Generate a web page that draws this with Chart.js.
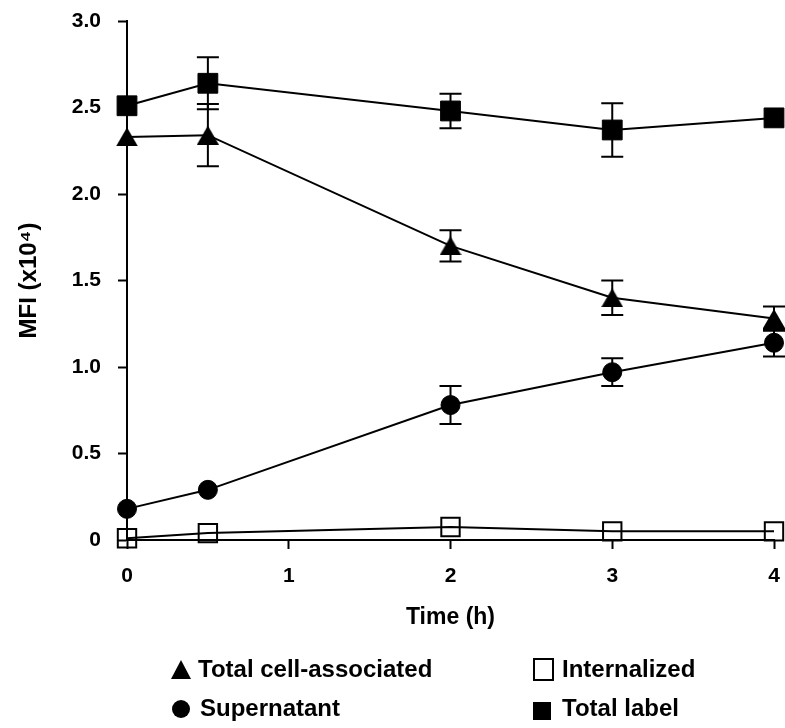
<!DOCTYPE html>
<html>
<head>
<meta charset="utf-8">
<script src="https://cdn.jsdelivr.net/npm/chart.js@4/dist/chart.umd.min.js"></script>
<style>
    html, body { margin: 0; padding: 0; background: #fff; }
    #wrap { position: relative; width: 785px; height: 728px; }
    #chart { position: absolute; left: 0; top: 0; }
    .leg {
        position: absolute;
        font: bold 24px "Liberation Sans", Arial, sans-serif;
        color: #000;
        line-height: 28px;
        white-space: nowrap;
    }
    .mk { position: absolute; }
    .tri { width: 0; height: 0; border-left: 10.5px solid transparent; border-right: 10.5px solid transparent; border-bottom: 19px solid #000; }
    .dot { width: 18px; height: 18px; border-radius: 50%; background: #000; }
    .osq { width: 17px; height: 19px; border: 2px solid #000; background: #fff; }
    .fsq { width: 18px; height: 18px; background: #000; }
</style>
</head>
<body>
<div id="wrap">
    <canvas id="chart" width="785" height="728"></canvas>
    <div class="mk tri" style="left:171px; top:660px;"></div>
    <div class="leg" style="left:198px; top:655px;">Total cell-associated</div>
    <div class="mk osq" style="left:533px; top:658px;"></div>
    <div class="leg" style="left:562px; top:655px;">Internalized</div>
    <div class="mk dot" style="left:172px; top:700px;"></div>
    <div class="leg" style="left:200px; top:694px;">Supernatant</div>
    <div class="mk fsq" style="left:533px; top:702px;"></div>
    <div class="leg" style="left:562px; top:694px;">Total label</div>
</div>
<script>
const timeHours = [0, 0.5, 2, 3, 4];

const totalCell = [2.33, 2.34, 1.70, 1.40, 1.28];
const totalCellErr = [0, 0.18, 0.09, 0.10, 0.07];

const supernatant = [0.18, 0.29, 0.78, 0.97, 1.14];
const supernatantErr = [0, 0, 0.11, 0.08, 0.08];

const internalized = [0.01, 0.04, 0.075, 0.05, 0.05];
const internalizedErr = [0, 0, 0, 0, 0];

const totalLabel = [2.51, 2.64, 2.48, 2.37, 2.44];
const totalLabelErr = [0, 0.15, 0.10, 0.155, 0];

const yTicks = [0, 0.5, 1.0, 1.5, 2.0, 2.5, 3.0];
const xTicks = [0, 1, 2, 3, 4];

const FONT = '"Liberation Sans", Arial, sans-serif';

// triangle marker centred on its box, like the original plot
function triangleMarker() {
    const c = document.createElement('canvas');
    c.width = 22;
    c.height = 19;
    const g = c.getContext('2d');
    g.fillStyle = '#000';
    g.beginPath();
    g.moveTo(11, 0);
    g.lineTo(22, 19);
    g.lineTo(0, 19);
    g.closePath();
    g.fill();
    return c;
}

function toPoints(values) {
    return values.map((v, i) => ({ x: timeHours[i], y: v }));
}

function makeSet(label, values, errs, style, radius, fill) {
    return {
        label: label,
        data: toPoints(values),
        errors: errs,
        borderColor: '#000',
        backgroundColor: '#000',
        borderWidth: 2,
        tension: 0,
        clip: false,
        pointStyle: style,
        pointRadius: radius,
        pointBorderWidth: fill ? 1 : 2,
        pointBackgroundColor: fill ? '#000' : 'rgba(0,0,0,0)',
        pointBorderColor: '#000'
    };
}

const errorBars = {
    id: 'errorBars',
    beforeDatasetsDraw(chart) {
        const ctx = chart.ctx;
        const xs = chart.scales.x;
        const ys = chart.scales.y;
        ctx.save();
        ctx.strokeStyle = '#000';
        ctx.lineWidth = 2;
        chart.data.datasets.forEach(ds => {
            ds.data.forEach((p, i) => {
                const e = ds.errors[i];
                if (!e) return;
                const px = xs.getPixelForValue(p.x);
                const top = ys.getPixelForValue(p.y + e);
                const bot = ys.getPixelForValue(p.y - e);
                ctx.beginPath();
                ctx.moveTo(px, top);
                ctx.lineTo(px, bot);
                ctx.moveTo(px - 11, top);
                ctx.lineTo(px + 11, top);
                ctx.moveTo(px - 11, bot);
                ctx.lineTo(px + 11, bot);
                ctx.stroke();
            });
        });
        ctx.restore();
    }
};

const chart = new Chart(document.getElementById('chart'), {
    type: 'line',
    data: {
        datasets: [
            makeSet('Total cell-associated', totalCell, totalCellErr, triangleMarker(), 11, true),
            makeSet('Supernatant', supernatant, supernatantErr, 'circle', 9.5, true),
            makeSet('Internalized', internalized, internalizedErr, 'rect', 13, false),
            makeSet('Total label', totalLabel, totalLabelErr, 'rect', 14, true)
        ]
    },
    options: {
        responsive: false,
        animation: false,
        layout: { autoPadding: false, padding: { top: 21, right: 11, left: 0, bottom: 0 } },
        plugins: {
            legend: { display: false },
            tooltip: { enabled: false }
        },
        scales: {
            x: {
                type: 'linear',
                min: 0,
                max: 4,
                afterFit: s => { s.height = 188; s.paddingLeft = 0; s.paddingRight = 0; },
                afterBuildTicks: s => { s.ticks = xTicks.map(v => ({ value: v })); },
                grid: { drawOnChartArea: false, drawTicks: true, tickLength: 9, tickWidth: 2, tickColor: '#000' },
                border: { display: true, color: '#000', width: 2 },
                ticks: {
                    color: '#000',
                    padding: 15,
                    font: { family: FONT, size: 21, weight: 'bold' },
                    callback: v => String(v)
                },
                title: {
                    display: true,
                    text: 'Time (h)',
                    color: '#000',
                    font: { family: FONT, size: 23, weight: 'bold' },
                    padding: { top: 0, bottom: 97 }
                }
            },
            y: {
                min: 0,
                max: 3,
                afterFit: s => { s.width = 127; s.paddingTop = 0; s.paddingBottom = 0; },
                afterBuildTicks: s => { s.ticks = yTicks.map(v => ({ value: v })); },
                grid: { drawOnChartArea: false, drawTicks: true, tickLength: 9, tickWidth: 2, tickColor: '#000' },
                border: { display: true, color: '#000', width: 2 },
                ticks: {
                    color: '#000',
                    padding: 17,
                    font: { family: FONT, size: 21, weight: 'bold' },
                    callback: v => v === 0 ? '0' : v.toFixed(1)
                },
                title: {
                    display: true,
                    text: 'MFI (x10\u2074)',
                    color: '#000',
                    font: { family: FONT, size: 24, weight: 'bold' },
                    padding: { top: 15, bottom: 0 }
                }
            }
        }
    },
    plugins: [errorBars]
});
</script>
</body>
</html>
